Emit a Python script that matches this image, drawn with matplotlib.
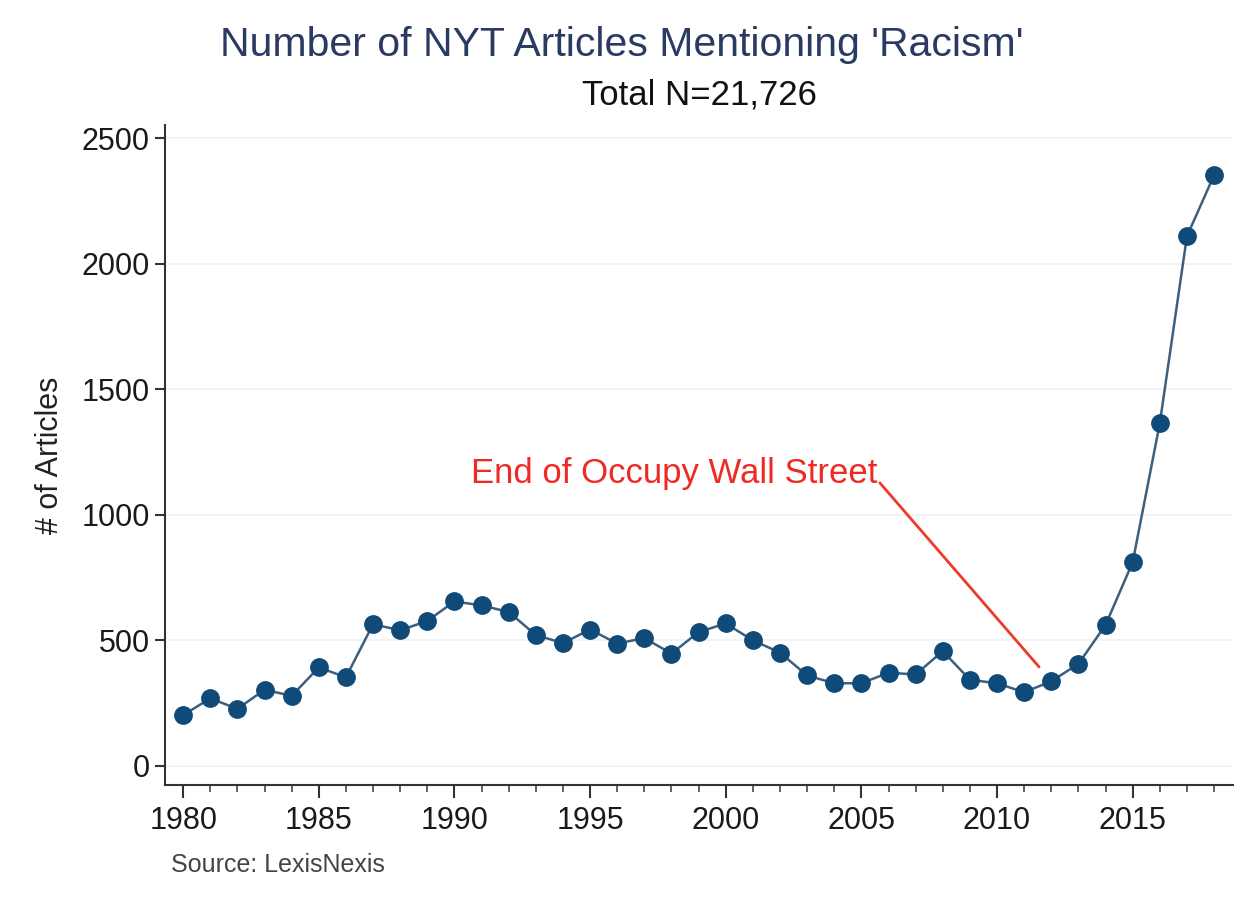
import matplotlib
matplotlib.use("Agg")
import matplotlib.pyplot as plt
from matplotlib.ticker import MultipleLocator

# yearly counts
years = list(range(1980, 2019))
articles = [202, 269, 227, 303, 279, 392, 353, 564, 540, 577,
            655, 639, 613, 521, 489, 543, 487, 509, 447, 533,
            567, 500, 451, 360, 329, 329, 371, 364, 457, 343,
            329, 293, 337, 406, 561, 811, 1364, 2109, 2352]
y_ticks = [0, 500, 1000, 1500, 2000, 2500]
x_ticks = [1980, 1985, 1990, 1995, 2000, 2005, 2010, 2015]

plt.rcParams['font.family'] = ['Liberation Sans', 'DejaVu Sans']

fig = plt.figure(figsize=(12.46, 9.10), dpi=100)
ax = fig.add_axes([0.1324, 0.1374, 0.8572, 0.7252])

ax.plot(years, articles, color='#3d5f7e', lw=1.8, marker='o',
        markersize=12.5, markerfacecolor='#0f4a78', markeredgecolor='#0f4a78',
        zorder=3)

ax.set_xlim(1979.33, 2018.7)
ax.set_ylim(-76, 2552)
ax.set_yticks(y_ticks)
ax.set_xticks(x_ticks)
ax.xaxis.set_minor_locator(MultipleLocator(1))

ax.grid(axis='y', color='#eef2f6', lw=1.2, zorder=0)
for s in ['top', 'right']:
    ax.spines[s].set_visible(False)
for s in ['left', 'bottom']:
    ax.spines[s].set_color('#333333')
    ax.spines[s].set_linewidth(1.5)

ax.tick_params(axis='both', which='major', labelsize=22, color='#333333',
               width=1.5, labelcolor='#1a1a1a')
ax.tick_params(axis='y', which='major', length=7, pad=4)
ax.tick_params(axis='x', which='major', length=9, pad=6)
ax.tick_params(axis='x', which='minor', length=5, width=1.3, color='#555555')

ax.set_ylabel("# of Articles", fontsize=22, color='#222222', labelpad=12)

fig.text(0.499, 0.951, "Number of NYT Articles Mentioning 'Racism'",
         ha='center', va='center', fontsize=29.5, color='#2b3a63')
fig.text(0.5615, 0.896, "Total N=21,726", ha='center', va='center',
         fontsize=25, color='#111111')
fig.text(0.137, 0.050, "Source: LexisNexis", ha='left', va='center',
         fontsize=18, color='#444444')

ax.annotate("End of Occupy Wall Street", xy=(2011.55, 394),
            xytext=(1990.6, 1166), ha='left', va='center',
            fontsize=25, color='#ee2a24',
            family=['Liberation Sans Narrow', 'Liberation Sans'],
            arrowprops=dict(arrowstyle='-', color='#ee3a2a', lw=2,
                            shrinkA=0, shrinkB=0,
                            relpos=(1.0, 0.3)))

fig.savefig("out.png", dpi=100, facecolor='white')
